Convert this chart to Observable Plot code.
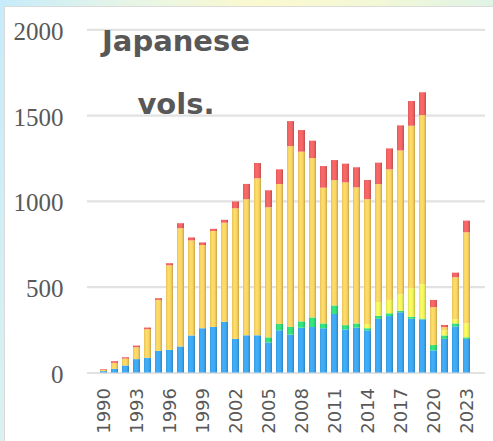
<!DOCTYPE html>
<html>
<head>
<meta charset="utf-8">
<script src="https://cdn.jsdelivr.net/npm/d3@7"></script>
<script src="https://cdn.jsdelivr.net/npm/@observablehq/plot@0.6"></script>
<style>
html, body { margin: 0; padding: 0; width: 493px; height: 441px; overflow: hidden; }
body {
  position: relative;
  background: linear-gradient(100deg, #c6ebfb 0%, #e6f5e8 22%, #fbf9cf 45%, #f4f8d6 65%, #d3f1ef 100%);
}
#panel { position: absolute; left: 4px; top: 6px; width: 520px; height: 470px; background: #fff; border: 1px solid #dadada; }
#chart { position: absolute; left: 0; top: 0; }
.title { position: absolute; left: 76px; width: 200px; text-align: center; font-family: "DejaVu Sans", sans-serif; font-weight: bold; font-size: 29px; line-height: 29px; color: #585858; white-space: nowrap; }
</style>
</head>
<body>
<div id="panel"></div>
<div id="chart"></div>
<div class="title" id="t1" style="top:27px"></div>
<div class="title" id="t2" style="top:90px"></div>
<script>
const years = [1990,1991,1992,1993,1994,1995,1996,1997,1998,1999,2000,2001,2002,2003,2004,2005,2006,2007,2008,2009,2010,2011,2012,2013,2014,2015,2016,2017,2018,2019,2020,2021,2022,2023];
const seriesA = [8,21,41,78,86,126,132,152,216,258,266,295,196,217,217,175,246,221,261,265,258,341,251,261,246,313,329,351,313,309,129,196,269,196];
const seriesB = [0,0,0,0,0,0,0,0,0,0,0,0,0,0,0,30,37,45,37,56,28,50,25,25,12,18,16,9,12,5,31,20,17,9];
const seriesC = [0,0,0,0,0,0,0,0,0,0,0,0,0,0,0,0,0,0,0,0,0,0,0,0,24,80,78,96,166,200,0,30,24,81];
const seriesD = [8,35,40,69,166,297,493,689,554,485,559,578,761,793,915,758,815,1053,989,929,791,730,832,793,728,687,761,838,947,986,221,18,245,531];
const seriesE = [4,10,8,10,10,10,12,29,17,15,12,17,40,89,89,99,86,146,126,101,126,117,109,117,112,125,122,146,144,133,42,13,27,68];

const seriesNames = ["S1", "S2", "S3", "S4", "S5"];
const seriesColors = ["#3ea8f2", "#33df7b", "#f2f35c", "#fad463", "#f26464"];
const yTicks = [0, 500, 1000, 1500, 2000];
const xTickLabels = [1990,1993,1996,1999,2002,2005,2008,2011,2014,2017,2020,2023];
const titleLines = ["Japanese", "vols."];

const seriesValues = [seriesA, seriesB, seriesC, seriesD, seriesE];
const rows = [];
seriesNames.forEach((s, k) => years.forEach((yr, i) => rows.push({year: yr, series: s, value: seriesValues[k][i]})));

const chart = Plot.plot({
  width: 493,
  height: 441,
  marginLeft: 87,
  marginRight: 8,
  marginTop: 29.3,
  marginBottom: 68.5,
  style: {background: "transparent", overflow: "visible"},
  x: {type: "band", domain: years, range: [89.25, 480.25], paddingInner: 0.4, paddingOuter: 0.2, label: null},
  y: {domain: [0, 2000], label: null},
  color: {type: "ordinal", domain: seriesNames, range: seriesNames.map(s => `url(#grad-${s})`)},
  marks: [
    Plot.ruleY(yTicks, {stroke: "#e2e2e2", strokeWidth: 2.2}),
    Plot.rectY(rows, Plot.stackY({x: "year", y: "value", fill: "series", order: seriesNames})),
    Plot.axisY({ticks: yTicks, label: null, tickSize: 0, tickPadding: 24, tickFormat: d => String(d), fontSize: 25, fontFamily: "Liberation Serif", fill: "#595959", dy: 2}),
    Plot.axisX({ticks: xTickLabels, label: null, tickSize: 0, tickPadding: 15, tickRotate: -90, tickFormat: d => String(d), fontSize: 18, fontFamily: "DejaVu Sans", fill: "#595959"})
  ]
});

const ns = "http://www.w3.org/2000/svg";
const defs = document.createElementNS(ns, "defs");
seriesNames.forEach((s, k) => {
  const base = d3.color(seriesColors[k]);
  const g = document.createElementNS(ns, "linearGradient");
  g.setAttribute("id", `grad-${s}`);
  g.setAttribute("x1", "0"); g.setAttribute("x2", "1"); g.setAttribute("y1", "0"); g.setAttribute("y2", "0");
  [[0, base.darker(0.25)], [0.3, base.brighter(0.12)], [0.7, base], [1, base.darker(0.7)]].forEach(([o, c]) => {
    const st = document.createElementNS(ns, "stop");
    st.setAttribute("offset", o);
    st.setAttribute("stop-color", c.formatHex());
    g.appendChild(st);
  });
  defs.appendChild(g);
});
chart.insertBefore(defs, chart.firstChild);
document.getElementById("chart").appendChild(chart);
document.getElementById("t1").textContent = titleLines[0];
document.getElementById("t2").textContent = titleLines[1];
</script>
</body>
</html>
